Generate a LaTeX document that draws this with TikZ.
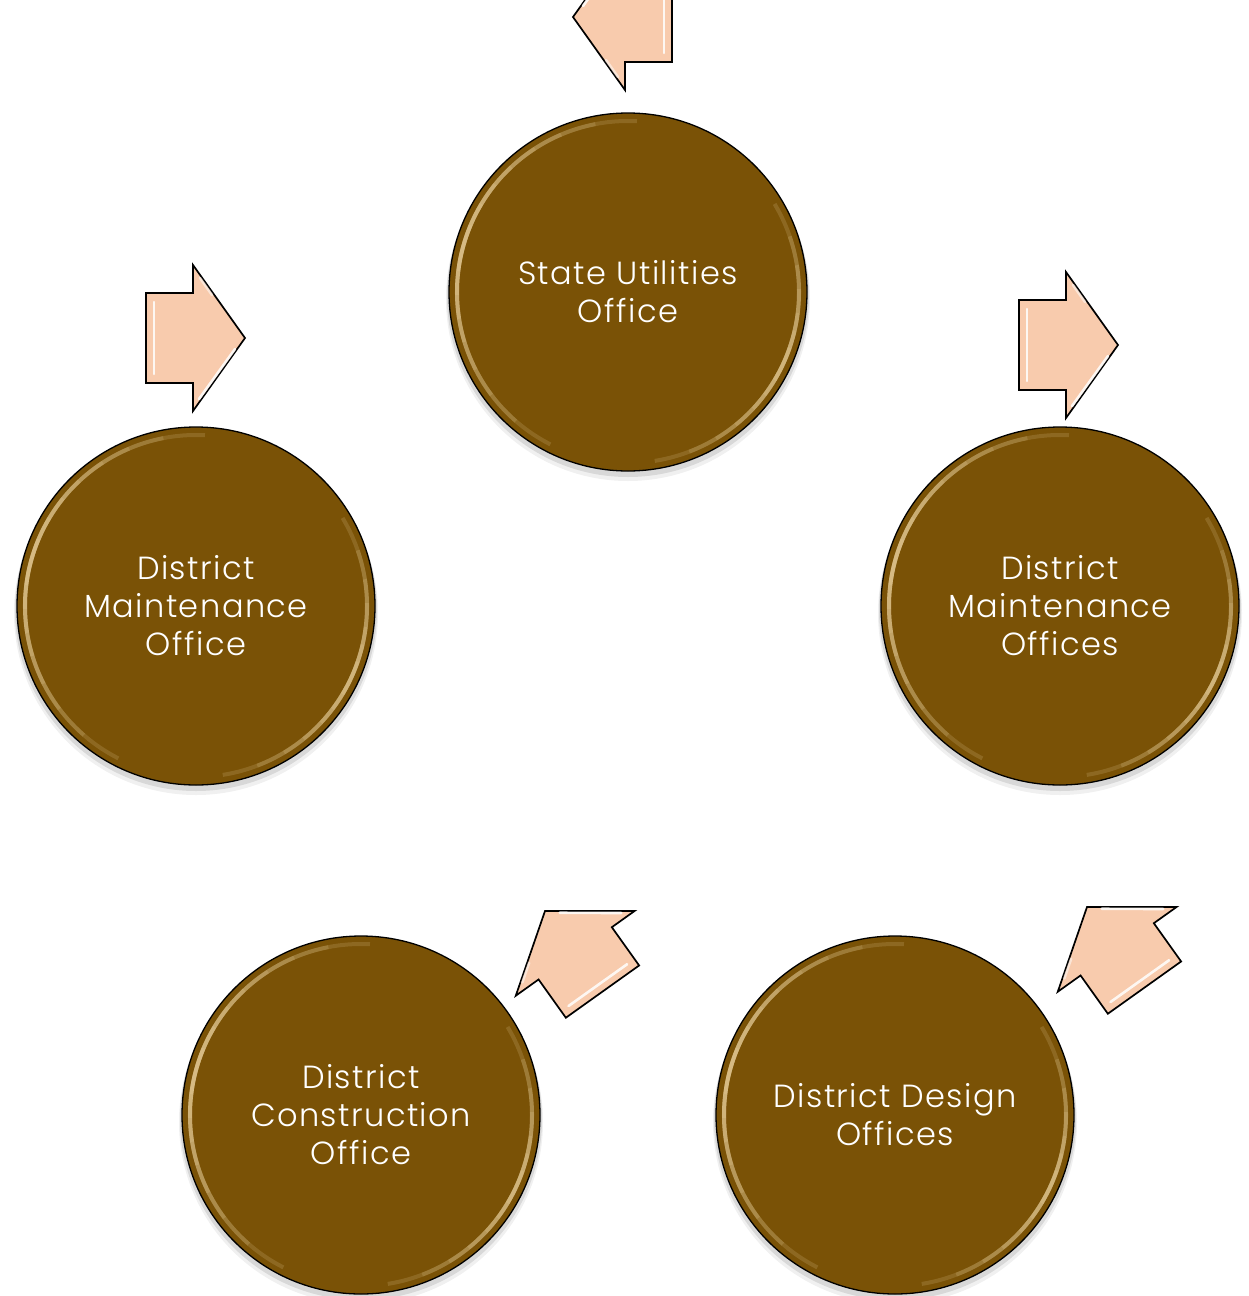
\documentclass[tikz,border=0pt]{standalone}
\usepackage{fontspec}
\setmainfont{Poppins Light}[LetterSpace=4.5]
\definecolor{discbrown}{HTML}{7A5206}
\definecolor{rimgold}{HTML}{F6DFAE}
\definecolor{peach}{HTML}{F8CBAD}
\tikzset{
  disc/.style={circle, minimum size=358pt, inner sep=0pt, fill=discbrown,
    draw=black, line width=1.3pt, text=white, align=center,
    font=\fontsize{32}{38}\selectfont},
  arrowbody/.style={fill=peach, draw=black, line width=1.7pt, line join=miter},
  bevel/.style={white, line width=2.6pt, opacity=.85, line cap=round},
  pics/blockarrow/.style={code={
    \draw[arrowbody] (0,0) -- (-52,-73) -- (-52,-45) -- (-99,-45) -- (-99,45)
      -- (-52,45) -- (-52,73) -- cycle;
    \draw[bevel] (-91,-36) -- (-91,36);
    \draw[bevel] (-46,61) -- (-10,11);
    \draw[bevel,opacity=.5] (-45,-60) -- (-33,-43);
  }}
}
\newcommand\rimglow[1]{%
  \fill[black,opacity=.10] ([yshift=-4pt]#1.center) circle[radius=181];
  \fill[black,opacity=.06] ([yshift=-7pt]#1.center) circle[radius=182];
}
% arcs centred on a visual angle, growing half-widths, low opacity each
\newcommand\rimshine[1]{%
  \foreach \h in {8,16,24,32,42,52,64,78}{
    \draw[rimgold, line width=4pt, opacity=.16]
      ([shift={(-165+\h:171)}]#1.center) arc[start angle=-165+\h, end angle=-165-\h, radius=171];
  }
  \foreach \h in {6,12,18,26,34,44,56}{
    \draw[rimgold, line width=4pt, opacity=.16]
      ([shift={(25+\h:171)}]#1.center) arc[start angle=25+\h, end angle=25-\h, radius=171];
  }
}
\begin{document}
\begin{tikzpicture}[x=1pt,y=-1pt]
\useasboundingbox (0,0) rectangle (1248,1296);
\clip (0,0) rectangle (1248,1296);

\coordinate (cTop) at (628,292);
\coordinate (cLeft) at (196,606);
\coordinate (cRight) at (1060,606);
\coordinate (cBL) at (361,1115);
\coordinate (cBR) at (895,1115);

\rimglow{cTop}\rimglow{cLeft}\rimglow{cRight}\rimglow{cBL}\rimglow{cBR}

\node[disc] (state) at (cTop) {State Utilities\\Office};
\node[disc] (maintL) at (cLeft) {District\\Maintenance\\Office};
\node[disc] (maintR) at (cRight) {District\\Maintenance\\Offices};
\node[disc] (constr) at (cBL) {District\\Construction\\Office};
\node[disc] (design) at (cBR) {District Design\\Offices};

\rimshine{state}\rimshine{maintL}\rimshine{maintR}\rimshine{constr}\rimshine{design}

\coordinate (aTop) at (573,17);
\coordinate (aLeft) at (245,338);
\coordinate (aRight) at (1118,345);
\coordinate (aBL) at (545,911);
\coordinate (aBR) at (1087,907);

\pic[rotate=180] at (aTop) {blockarrow};
\pic at (aLeft) {blockarrow};
\pic at (aRight) {blockarrow};
\pic[rotate=125.5] at (aBL) {blockarrow};
\pic[rotate=125.5] at (aBR) {blockarrow};
\end{tikzpicture}
\end{document}
